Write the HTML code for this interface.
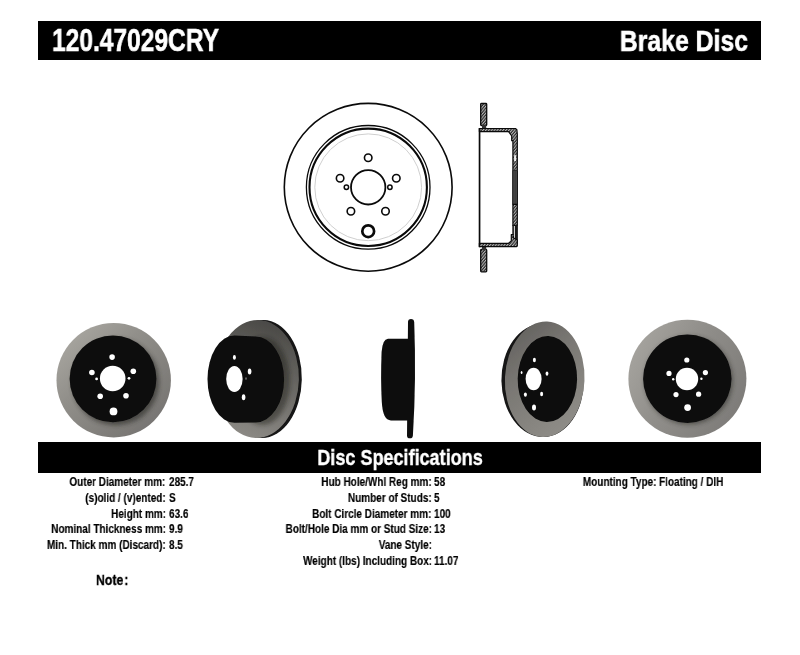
<!DOCTYPE html>
<html>
<head>
<meta charset="utf-8">
<title>120.47029CRY Brake Disc</title>
<style>
html,body{margin:0;padding:0;background:#fff;}
body{width:800px;height:655px;position:relative;overflow:hidden;font-family:"Liberation Sans",sans-serif;font-weight:bold;color:#000;}
.bar{position:absolute;left:38px;width:723.4px;background:#000;}
#bar1{top:20.5px;height:39px;}
#bar2{top:442.3px;height:30.9px;}
.t{position:absolute;white-space:nowrap;line-height:1;will-change:transform;}
.w{color:#fff;}
.l{transform-origin:0 0;}
.r{transform-origin:100% 0;}
.c{transform-origin:50% 0;}
#pn{left:52.4px;top:25.4px;font-size:31px;transform:scaleX(0.792);-webkit-text-stroke:0.6px #fff;}
#bd{right:52.2px;top:25.9px;font-size:30.2px;transform:scaleX(0.822);-webkit-text-stroke:0.6px #fff;}
#ds{left:200px;width:400px;text-align:center;top:447px;font-size:22px;transform:scaleX(0.82);-webkit-text-stroke:0.4px #fff;}
.s{font-size:12px;transform:scaleX(0.832);-webkit-text-stroke:0.15px #000;}
.lab{text-align:right;}
#art{position:absolute;left:0;top:0;}
</style>
</head>
<body>
<div class="bar" id="bar1"></div>
<div class="t w l" id="pn">120.47029CRY</div>
<div class="t w r" id="bd">Brake Disc</div>

<svg id="art" width="800" height="655" viewBox="0 0 800 655">
<!--FRONT-->
<g fill="none" stroke="#0a0a0a">
<circle cx="368.2" cy="187.3" r="83.9" stroke-width="1.6"/>
<circle cx="368.2" cy="187.3" r="61.8" stroke-width="1.3"/>
<circle cx="368.2" cy="187.3" r="58.7" stroke-width="2.1"/>
<circle cx="368.2" cy="187.3" r="53.4" stroke="#cfcfcf" stroke-width="1"/>
<circle cx="368.2" cy="187.3" r="17.2" stroke-width="1.8"/>
<circle cx="368.2" cy="157.8" r="3.75" stroke-width="1.6"/>
<circle cx="340.1" cy="178.2" r="3.75" stroke-width="1.6"/>
<circle cx="350.9" cy="211.2" r="3.75" stroke-width="1.6"/>
<circle cx="385.5" cy="211.2" r="3.75" stroke-width="1.6"/>
<circle cx="396.3" cy="178.2" r="3.75" stroke-width="1.6"/>
<circle cx="346.4" cy="187.3" r="2.2" stroke-width="1.5"/>
<circle cx="389.9" cy="187.3" r="2.2" stroke-width="1.5"/>
<circle cx="368.2" cy="231.2" r="5.9" stroke-width="2.7"/>
</g>
<!--SIDE-->
<defs>
<pattern id="hat" width="2.2" height="2.2" patternUnits="userSpaceOnUse" patternTransform="rotate(-50)">
<rect width="2.2" height="2.2" fill="#2a2a2a"/><rect y="0" width="2.2" height="1.05" fill="#b4b4b4"/>
</pattern>
</defs>
<rect x="480.7" y="103.5" width="6" height="22" rx="0.8" fill="url(#hat)" stroke="#0a0a0a" stroke-linejoin="round" stroke-width="1.3"/>
<rect x="480.7" y="249.5" width="6" height="22.3" rx="0.8" fill="url(#hat)" stroke="#0a0a0a" stroke-linejoin="round" stroke-width="1.3"/>
<rect x="482" y="125" width="4.2" height="3.5" fill="#333"/>
<rect x="482" y="246.8" width="4.2" height="3.2" fill="#333"/>
<path d="M479.4 128.5 L515.4 128.5 L516.9 129.8 L517.3 134 L517.3 170.5 L512.9 170.5 L512.9 140.7 L511.7 140.7 L511.7 136 L508.6 131.6 L479.4 131.6 Z" fill="url(#hat)" stroke="#0a0a0a" stroke-linejoin="round" stroke-width="1.2"/>
<rect x="478.7" y="128" width="1.7" height="119.2" fill="#0a0a0a"/>
<rect x="512.3" y="170.5" width="5.6" height="34" fill="#5a5a5a"/>
<rect x="512.3" y="170.5" width="1.1" height="34" fill="#111"/><rect x="516.7" y="170.5" width="1.2" height="34" fill="#111"/><rect x="514.6" y="170.5" width="0.9" height="34" fill="#222"/>
<rect x="512.9" y="204.3" width="4.4" height="21" fill="url(#hat)" stroke="#0a0a0a" stroke-linejoin="round" stroke-width="1.2"/>
<rect x="514.8" y="225" width="3.1" height="19" fill="#1a1a1a"/>
<rect x="512.3" y="225" width="1.6" height="10" fill="#1a1a1a"/>
<path d="M479.4 243.3 L508.6 243.3 L511.3 240.9 L511.3 234.5 L513 234.5 L513.6 238 L517.3 240 L517.3 246 L516.6 246.6 L479.4 246.6 Z" fill="url(#hat)" stroke="#0a0a0a" stroke-linejoin="round" stroke-width="1.2"/>
<rect x="514.1" y="155.2" width="2" height="5.8" fill="#eee"/>
<!--PHOTOS-->
<defs>
<filter id="bl" x="-5%" y="-5%" width="110%" height="110%"><feGaussianBlur stdDeviation="0.6"/></filter>
<filter id="bl2" x="-20%" y="-20%" width="140%" height="140%"><feGaussianBlur stdDeviation="2.2"/></filter>
<linearGradient id="g1" x1="0.1" y1="0.1" x2="0.9" y2="0.95"><stop offset="0" stop-color="#a8a6a0"/><stop offset="0.35" stop-color="#918f8a"/><stop offset="0.7" stop-color="#817f7b"/><stop offset="1" stop-color="#747270"/></linearGradient>
<linearGradient id="g5" x1="0.05" y1="0.3" x2="0.95" y2="0.8"><stop offset="0" stop-color="#a3a19c"/><stop offset="0.4" stop-color="#908e8a"/><stop offset="1" stop-color="#7d7b78"/></linearGradient>
<linearGradient id="g2" x1="0.6" y1="0" x2="0.35" y2="1"><stop offset="0" stop-color="#4a4946"/><stop offset="0.3" stop-color="#5f5e5a"/><stop offset="0.6" stop-color="#73716d"/><stop offset="1" stop-color="#8c8a85"/></linearGradient>
<linearGradient id="g4" x1="0.2" y1="0" x2="0.8" y2="1"><stop offset="0" stop-color="#63615e"/><stop offset="0.35" stop-color="#787672"/><stop offset="0.7" stop-color="#86847f"/><stop offset="1" stop-color="#908e89"/></linearGradient>
<clipPath id="c1"><circle cx="113.7" cy="380.2" r="57.2"/></clipPath>
<clipPath id="c5"><circle cx="687.4" cy="378.8" r="59"/></clipPath>
<clipPath id="c2"><ellipse cx="257" cy="379" rx="41.9" ry="59" transform="rotate(1.5 257 379)"/></clipPath>
</defs>
<g filter="url(#bl)">
<g id="p1">
<circle cx="113.7" cy="380.2" r="57.2" fill="url(#g1)"/>
<g clip-path="url(#c1)"><circle cx="115.6" cy="381.8" r="43.6" fill="#2a2926" opacity="0.6" filter="url(#bl2)"/></g>
<circle cx="113" cy="378.8" r="43.4" fill="#0c0c0c"/>
<g fill="#fff">
<circle cx="112.7" cy="378.5" r="12.8"/>
<circle cx="112.1" cy="357.1" r="2.8"/>
<circle cx="91.9" cy="372.5" r="2.8"/>
<circle cx="133.3" cy="371.3" r="2.8"/>
<circle cx="100.2" cy="396.3" r="2.8"/>
<circle cx="126" cy="395.8" r="2.8"/>
<circle cx="113.5" cy="411.4" r="3.9"/>
<circle cx="96.6" cy="378.9" r="1.4"/>
<circle cx="129" cy="378.3" r="1.4"/>
</g></g>
<g id="p2">
<ellipse cx="262.6" cy="379" rx="39.2" ry="59" fill="#141414" transform="rotate(1 262 379)"/>
<ellipse cx="257" cy="379" rx="41.9" ry="59" fill="url(#g2)" transform="rotate(1.5 257 379)"/>
<g clip-path="url(#c2)"><ellipse cx="262.5" cy="381" rx="27.5" ry="44" fill="#1a1a18" opacity="0.45" filter="url(#bl2)"/></g>
<path d="M234.5 335.4 L255.5 336.6 A28.6 42.9 0 0 1 255.5 422.4 L234.5 422.8 A27 43.7 0 0 1 234.5 335.4 Z" fill="#0c0c0c"/>
<ellipse cx="234.4" cy="379" rx="8.2" ry="13" fill="#fff"/>
<ellipse cx="234.4" cy="357.4" rx="1.5" ry="2.4" fill="#fff"/>
<ellipse cx="249.6" cy="371.6" rx="1.8" ry="3" fill="#fff"/>
<ellipse cx="243.6" cy="397.2" rx="1.8" ry="3" fill="#fff"/>
<ellipse cx="246" cy="378.6" rx="0.9" ry="1.3" fill="#666"/>
</g>
<g id="p3" fill="#0c0c0c">
<path d="M408 322 Q408 319 411 319 Q414 319 414.2 322 Q416.4 379 412.9 435.4 Q412.7 438.3 409.9 438.3 Q407 438.3 407 435.4 Z"/>
<path d="M409 338.8 L388 338.8 Q382.6 339 381.6 352 Q380.5 379 381.8 402 Q382.8 420.4 391 420.4 L409 420.4 Z"/>
</g>
<g id="p4">
<ellipse cx="542.6" cy="380.4" rx="41.2" ry="56.6" fill="#141414" transform="rotate(-1 542 380)"/>
<ellipse cx="544.7" cy="379.2" rx="39.8" ry="57.8" fill="url(#g4)" transform="rotate(2.5 544.7 379.2)"/>
<ellipse cx="547.4" cy="379" rx="29.7" ry="43" fill="#0c0c0c" transform="rotate(1 547.4 379)"/>
<g fill="#fff">
<ellipse cx="533.6" cy="379" rx="8" ry="11.2"/>
<ellipse cx="534.4" cy="360" rx="1.5" ry="2.2"/>
<ellipse cx="547" cy="373.6" rx="1.4" ry="2.2"/>
<ellipse cx="541.6" cy="394" rx="1.5" ry="2.2"/>
<ellipse cx="525.4" cy="394.6" rx="1.5" ry="2.2"/>
<ellipse cx="521.6" cy="372.4" rx="0.9" ry="1.5"/>
<ellipse cx="534" cy="407.6" rx="2" ry="3"/>
</g></g>
<g id="p5">
<circle cx="687.4" cy="378.8" r="59" fill="url(#g5)"/>
<g clip-path="url(#c5)"><circle cx="688.6" cy="380.2" r="44.3" fill="#2a2926" opacity="0.55" filter="url(#bl2)"/></g>
<circle cx="687.3" cy="378.7" r="44.2" fill="#0c0c0c"/>
<g fill="#fff">
<circle cx="687" cy="379" r="11.2"/>
<circle cx="686.8" cy="360" r="2.6"/>
<circle cx="669" cy="373.4" r="2.6"/>
<circle cx="705.4" cy="372.6" r="2.6"/>
<circle cx="676" cy="394.6" r="2.6"/>
<circle cx="698.6" cy="394.2" r="2.6"/>
<circle cx="687.6" cy="407.6" r="3.4"/>
<circle cx="673.2" cy="379.2" r="1.2"/>
<circle cx="701.4" cy="378.8" r="1.2"/>
</g></g>
</g>
<!--ENDPHOTOS-->
</svg>

<div class="bar" id="bar2"></div>
<div class="t w c" id="ds">Disc Specifications</div>

<div class="t s r lab" style="right:634.2px;top:476.2px">Outer Diameter mm:</div>
<div class="t s l" style="left:169px;top:476.2px">285.7</div>
<div class="t s r lab" style="right:634.2px;top:491.9px">(s)olid / (v)ented:</div>
<div class="t s l" style="left:169px;top:491.9px">S</div>
<div class="t s r lab" style="right:634.2px;top:507.6px">Height mm:</div>
<div class="t s l" style="left:169px;top:507.6px">63.6</div>
<div class="t s r lab" style="right:634.2px;top:523.3px">Nominal Thickness mm:</div>
<div class="t s l" style="left:169px;top:523.3px">9.9</div>
<div class="t s r lab" style="right:634.2px;top:539.0px">Min. Thick mm (Discard):</div>
<div class="t s l" style="left:169px;top:539.0px">8.5</div>
<div class="t s r lab" style="right:368.2px;top:476.2px">Hub Hole/Whl Reg mm:</div>
<div class="t s l" style="left:434px;top:476.2px">58</div>
<div class="t s r lab" style="right:368.2px;top:491.9px">Number of Studs:</div>
<div class="t s l" style="left:434px;top:491.9px">5</div>
<div class="t s r lab" style="right:368.2px;top:507.6px">Bolt Circle Diameter mm:</div>
<div class="t s l" style="left:434px;top:507.6px">100</div>
<div class="t s r lab" style="right:368.2px;top:523.3px">Bolt/Hole Dia mm or Stud Size:</div>
<div class="t s l" style="left:434px;top:523.3px">13</div>
<div class="t s r lab" style="right:368.2px;top:539.0px">Vane Style:</div>
<div class="t s r lab" style="right:368.2px;top:554.7px">Weight (lbs) Including Box:</div>
<div class="t s l" style="left:434px;top:554.7px">11.07</div>
<div class="t s r lab" style="right:144px;top:476.2px">Mounting Type:</div>
<div class="t s l" style="left:659px;top:476.2px">Floating / DIH</div>
<div class="t l" id="note" style="left:96.2px;top:572.1px;font-size:15px;transform:scaleX(0.82);-webkit-text-stroke:0.35px #000">Note<span style="margin-left:1.2px">:</span></div>
</body>
</html>
